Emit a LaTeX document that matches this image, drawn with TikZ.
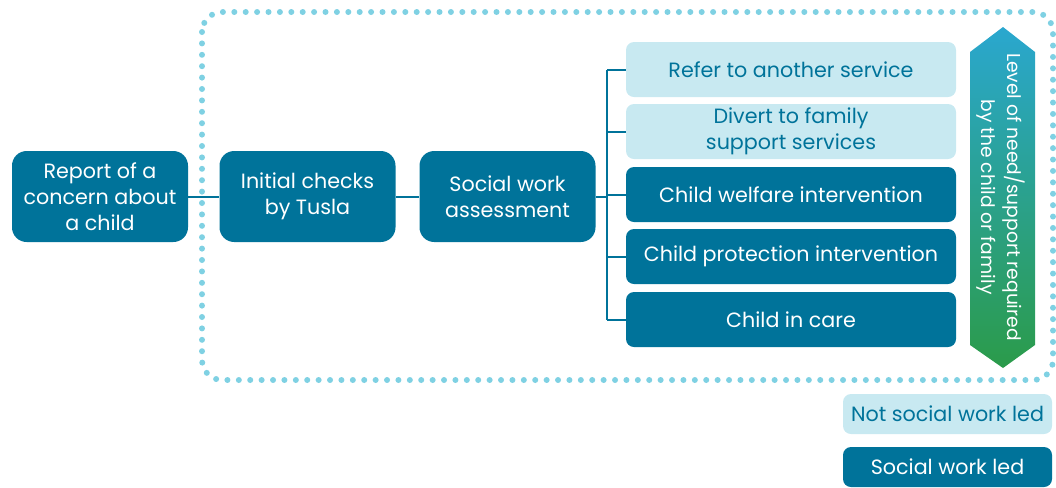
\documentclass[tikz,border=0pt]{standalone}
\usepackage{fontspec}
\setmainfont{Poppins}

\definecolor{tuslablue}{HTML}{00739A}
\definecolor{tuslalight}{HTML}{C8E9F1}
\definecolor{dotblue}{HTML}{7FD1E3}
\definecolor{arrtop}{HTML}{2AA7CF}
\definecolor{arrbot}{HTML}{2B9B4A}

\begin{document}
\begin{tikzpicture}[x=0.75pt,y=-0.75pt,
   dark/.style={fill=tuslablue,text=white,align=center,inner sep=0pt,
     font=\fontsize{15.5}{19.5}\selectfont},
   bigbox/.style={dark,rounded corners=11pt,minimum width=132pt,minimum height=68.25pt},
   outbox/.style={dark,rounded corners=6pt,minimum width=247.5pt,minimum height=41.25pt},
   lightbox/.style={outbox,fill=tuslalight,text=tuslablue},
   keybox/.style={dark,rounded corners=6pt,minimum width=156.75pt,minimum height=30pt},
   link/.style={draw=tuslablue,line width=1.5pt}]
   \useasboundingbox (0,0) rectangle (1056,487);
   % dotted frame
   \draw[dotblue,line width=4.5pt,line cap=round,dash pattern=on 0pt off 8.55pt,
     rounded corners=15pt] (202,12) rectangle (1053,380);
   % main steps
   \node[bigbox] (report) at (100,196.5) {Report of a\\concern about\\a child};
   \node[bigbox] (checks) at (307.5,196.5) {Initial checks\\by Tusla};
   \node[bigbox] (assess) at (507.5,196.5) {Social work\\assessment};
   % outcomes
   \node[lightbox] (refer) at (791,69.5) {Refer to another service};
   \node[lightbox] (divert) at (791,131.5) {Divert to family\\support services};
   \node[outbox] (welfare) at (791,194.5) {Child welfare intervention};
   \node[outbox] (protect) at (791,256.5) {Child protection intervention};
   \node[outbox] (care) at (791,319.5) {Child in care};
   % connectors
   \coordinate (fork) at (607,196.5);
   \draw[link] (report) -- (checks);
   \draw[link] (checks) -- (assess);
   \draw[link] (assess) -- (fork);
   \draw[link] (fork |- refer) -- (fork |- care);
   \foreach \n in {refer,divert,welfare,protect,care} {
    \draw[link] (fork |- \n) -- (\n.west);
   }
   % level arrow
   \shade[top color=arrtop,bottom color=arrbot] (1003,27) -- (1035,52) -- (1035,345)
     -- (1003,368) -- (970,345) -- (970,52) -- cycle;
   \node[text=white,align=center,rotate=-90,font=\fontsize{14}{19.5}\selectfont] (level)
     at (1001,197) {Level of need/support required\\by the child or family};
   % key
   \node[keybox,fill=tuslalight,text=tuslablue] (notled) at (947.5,414) {Not social work led};
   \node[keybox] (led) at (947.5,467) {Social work led};
\end{tikzpicture}
\end{document}
